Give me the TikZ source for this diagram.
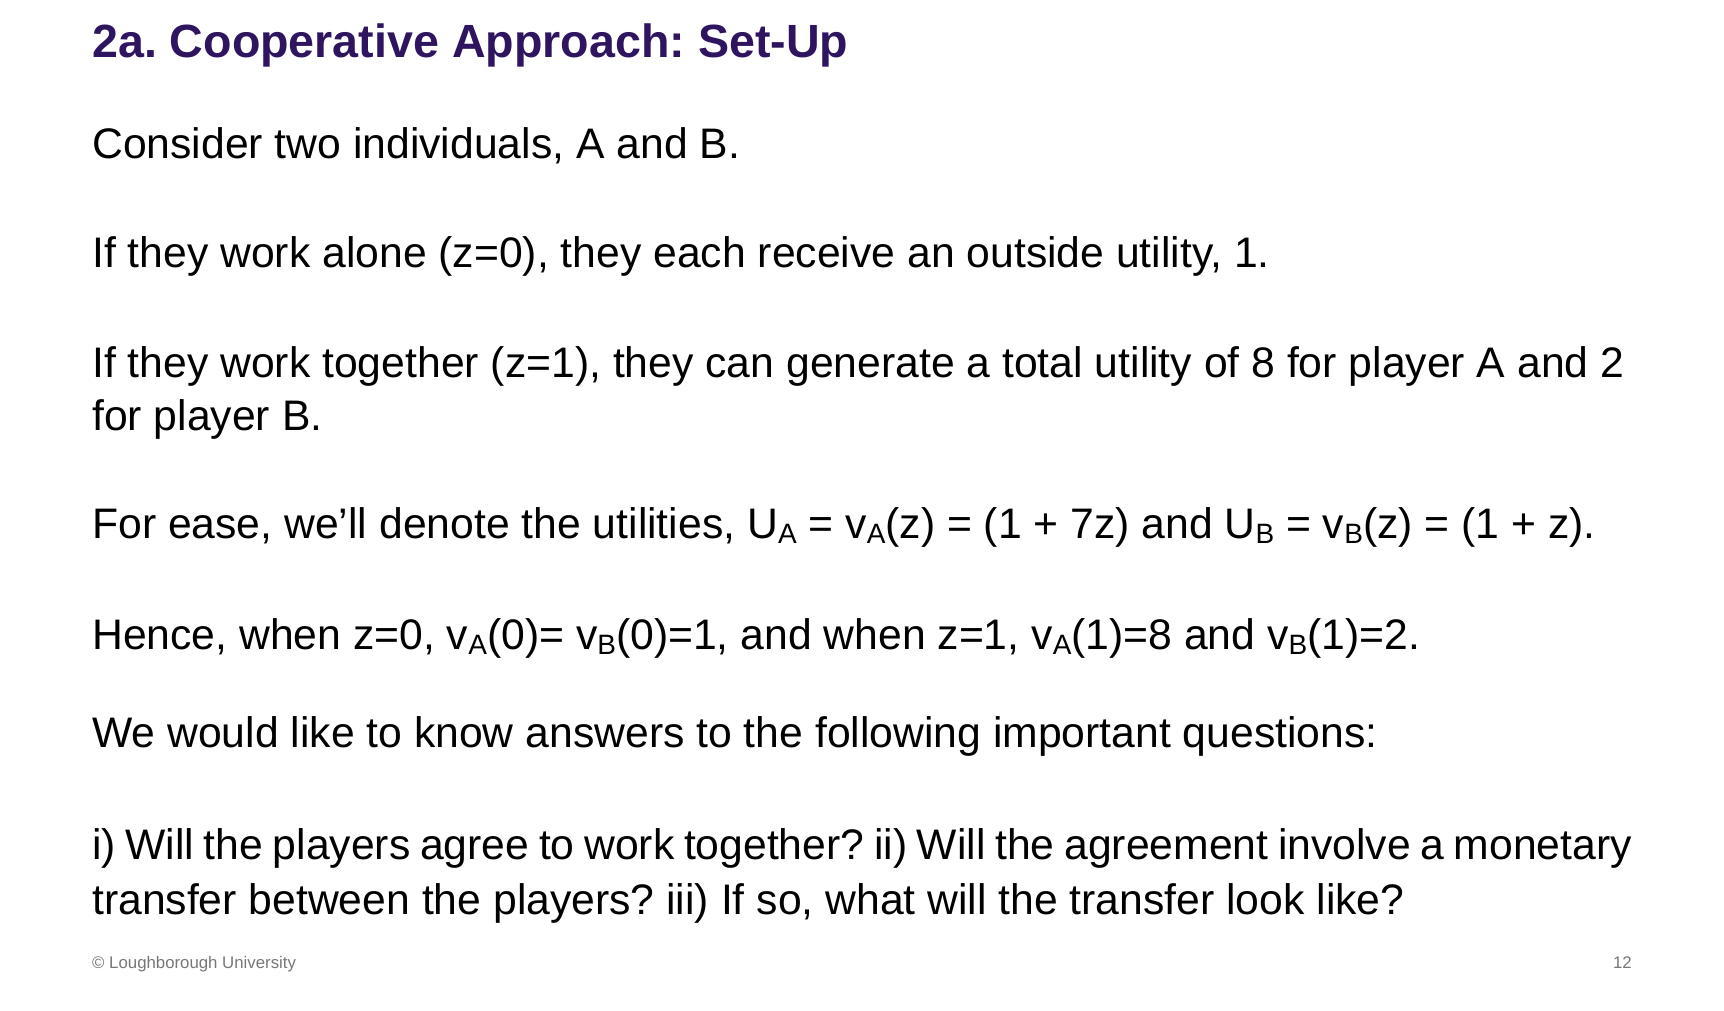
\documentclass[tikz,border=0pt]{standalone}
\usepackage{fontspec}
\setmainfont{Liberation Sans}
\frenchspacing
\definecolor{lpurple}{HTML}{2F1560}
\definecolor{fgray}{HTML}{777777}
\newcommand{\mysub}[1]{\raisebox{-0.12em}{\fontsize{28}{28}\selectfont #1}}
\begin{document}
\begin{tikzpicture}[x=1pt,y=-1pt,
  body/.style={anchor=base west,inner sep=0pt,font=\fontsize{42.7}{55}\selectfont},
  foot/.style={inner sep=0pt,text=fgray,font=\fontsize{16.8}{18}\selectfont}]
\useasboundingbox (0,0) rectangle (1724,1010);
\node[anchor=base west,inner sep=0pt,text=lpurple,font=\fontsize{46.6}{50}\selectfont\bfseries] (t) at (92,57) {2a. Cooperative Approach: Set-Up};
\node[body] (p1) at (92,158) {Consider two individuals, A and B.};
\node[body] (p2) at (92,267) {If they work alone (z=0), they each receive an outside utility, 1.};
\node[body] (p3) at (92,377) {If they work together (z=1), they can generate a total utility of 8 for player A and 2};
\node[body] (p3b) at (92,430) {for player B.};
\node[body] (p4) at (92,538) {For ease, we’ll denote the utilities, U\mysub{A} = v\mysub{A}(z) = (1 + 7z) and U\mysub{B} = v\mysub{B}(z) = (1 + z).};
\node[body] (p5) at (92,649) {Hence, when z=0, v\mysub{A}(0)= v\mysub{B}(0)=1, and when z=1, v\mysub{A}(1)=8 and v\mysub{B}(1)=2.};
\node[body] (p6) at (92,747) {We would like to know answers to the following important questions:};
\node[anchor=north west,inner sep=0pt,text width=1540pt,align=justify,font=\fontsize{42.7}{55}\selectfont] (p7) at (92,820.5) {\strut i) Will the players agree to work together? ii) Will the agreement involve a monetary transfer between the players? iii) If so, what will the transfer look like?};
\node[foot,anchor=base west] (f1) at (92,968) {© Loughborough University};
\node[foot,anchor=base east] (f2) at (1632,968) {12};
\end{tikzpicture}
\end{document}
